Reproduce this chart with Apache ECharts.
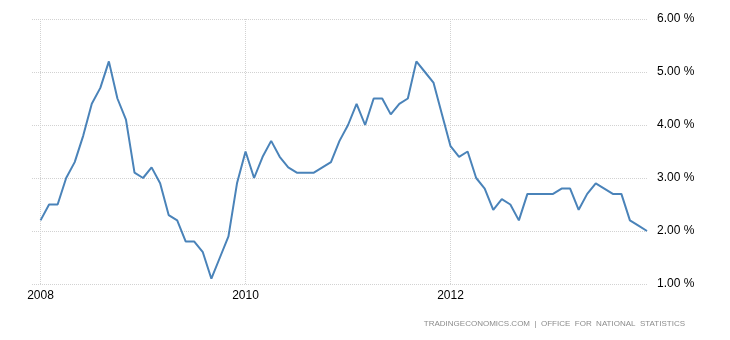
<!DOCTYPE html>
<html>
<head>
<meta charset="utf-8">
<script src="https://cdn.jsdelivr.net/npm/echarts@6/dist/echarts.min.js"></script>
<style>
    html, body { margin: 0; padding: 0; background: #fff; }
    #chart { width: 730px; height: 340px; }
</style>
</head>
<body>
<div id="chart"></div>
<script>
// UK inflation rate, monthly, Jan 2008 - Dec 2013
var years = [2008, 2009, 2010, 2011, 2012, 2013];
var monthNames = ['Jan', 'Feb', 'Mar', 'Apr', 'May', 'Jun', 'Jul', 'Aug', 'Sep', 'Oct', 'Nov', 'Dec'];
var inflation = [
    2.2, 2.5, 2.5, 3.0, 3.3, 3.8, 4.4, 4.7, 5.2, 4.5, 4.1, 3.1,
    3.0, 3.2, 2.9, 2.3, 2.2, 1.8, 1.8, 1.6, 1.1, 1.5, 1.9, 2.9,
    3.5, 3.0, 3.4, 3.7, 3.4, 3.2, 3.1, 3.1, 3.1, 3.2, 3.3, 3.7,
    4.0, 4.4, 4.0, 4.5, 4.5, 4.2, 4.4, 4.5, 5.2, 5.0, 4.8, 4.2,
    3.6, 3.4, 3.5, 3.0, 2.8, 2.4, 2.6, 2.5, 2.2, 2.7, 2.7, 2.7,
    2.7, 2.8, 2.8, 2.4, 2.7, 2.9, 2.8, 2.7, 2.7, 2.2, 2.1, 2.0
];
var labelYears = ['2008', '2010', '2012'];
var yTicks = [1, 2, 3, 4, 5, 6];

// one blank slot in front so the grid lines start a little left of 2008
var categories = [''];
years.forEach(function (y) {
    monthNames.forEach(function (m) { categories.push(m + ' ' + y); });
});
var seriesData = [null].concat(inflation);

function isLabelMonth(index, value) {
    return labelYears.some(function (y) { return value === 'Jan ' + y; });
}

var myChart = echarts.init(document.getElementById('chart'));
var option = {
    animation: false,
    grid: { left: 32, right: 83, top: 19, bottom: 56 },
    xAxis: {
        type: 'category',
        data: categories,
        boundaryGap: false,
        axisLine: { show: false },
        axisTick: { show: false },
        axisLabel: {
            interval: isLabelMonth,
            formatter: function (v) { return v.split(' ')[1]; },
            color: '#000',
            fontFamily: 'Liberation Sans',
            fontSize: 12,
            margin: 6
        },
        splitLine: {
            show: true,
            interval: isLabelMonth,
            lineStyle: { color: '#d2d2d2', type: 'dotted', width: 1 }
        }
    },
    yAxis: {
        type: 'value',
        position: 'right',
        min: yTicks[0],
        max: yTicks[yTicks.length - 1],
        interval: 1,
        axisLine: { show: false },
        axisTick: { show: false },
        axisLabel: {
            formatter: function (v) { return v.toFixed(2) + ' %'; },
            color: '#000',
            fontFamily: 'Liberation Sans',
            fontSize: 12,
            margin: 10
        },
        splitLine: {
            lineStyle: { color: '#d2d2d2', type: 'dotted', width: 1 }
        }
    },
    series: [{
        type: 'line',
        data: seriesData,
        showSymbol: false,
        symbol: 'none',
        lineStyle: { color: '#4a83b9', width: 2 }
    }],
    graphic: [{
        type: 'text',
        right: 45,
        top: 320,
        style: {
            text: 'TRADINGECONOMICS.COM  |  OFFICE  FOR  NATIONAL  STATISTICS',
            fill: '#8c8c8c',
            font: '8px "Liberation Sans"'
        }
    }]
};
myChart.setOption(option);
window.addEventListener('resize', function () {
    myChart.resize();
});
</script>
</body>
</html>
